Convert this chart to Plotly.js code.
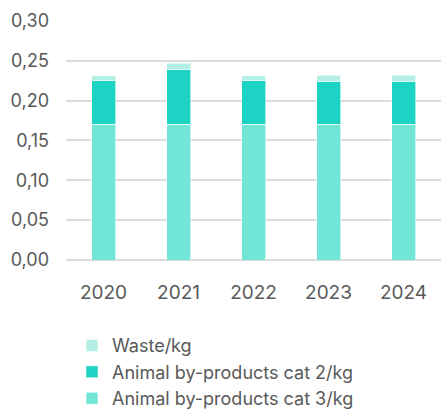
<!DOCTYPE html>
<html><head><meta charset="utf-8">
<script src="https://cdn.plot.ly/plotly-3.0.1.min.js"></script>
<style>html,body{margin:0;padding:0;background:#fff;}#chart{width:441px;height:412px;}</style>
</head><body><div id="chart"></div>
<script>
const years = ["2020", "2021", "2022", "2023", "2024"];
const cat3 = [0.170, 0.170, 0.170, 0.170, 0.170];
const cat2 = [0.055, 0.069, 0.055, 0.054, 0.054];
const waste = [0.006, 0.008, 0.006, 0.008, 0.008];
const yTicks = [0, 0.05, 0.10, 0.15, 0.20, 0.25, 0.30];

const line = {color: "rgba(255,255,255,0.6)", width: 1};
const traces = [
  {type: "bar", name: "Animal by-products cat 3/kg", x: years, y: cat3, marker: {color: "#72e6d6", line: line}},
  {type: "bar", name: "Animal by-products cat 2/kg", x: years, y: cat2, marker: {color: "#1dd3c3", line: line}},
  {type: "bar", name: "Waste/kg", x: years, y: waste, marker: {color: "#b3efe4", line: line}}
];
const layout = {
  width: 441, height: 412,
  margin: {l: 66, r: 0, t: 20, b: 152, autoexpand: false},
  barmode: "stack",
  bargap: 0.68,
  separators: ",.",
  paper_bgcolor: "#fff", plot_bgcolor: "#fff",
  font: {family: "Inter, 'Noto Sans', sans-serif", color: "#595959", size: 18},
  showlegend: true,
  legend: {orientation: "v", traceorder: "reversed", x: 0.016, xanchor: "left", y: -0.28, yanchor: "top",
           font: {size: 18, color: "#595959"}, tracegroupgap: 0, itemclick: false},
  xaxis: {type: "category", showgrid: false, zeroline: false, showline: false, ticks: "",
          tickfont: {size: 19, color: "#595959"}, ticklabelstandoff: 19},
  yaxis: {range: [0, 0.301], tickvals: yTicks, tickformat: ".2f", showgrid: true, gridcolor: "#dcdcdc", gridwidth: 2,
          zeroline: true, zerolinecolor: "#dcdcdc", zerolinewidth: 2, showline: false, ticks: "",
          tickfont: {size: 18, color: "#595959"}, ticklabelstandoff: 16}
};
Plotly.newPlot("chart", traces, layout, {displayModeBar: false, staticPlot: true});
</script></body></html>
